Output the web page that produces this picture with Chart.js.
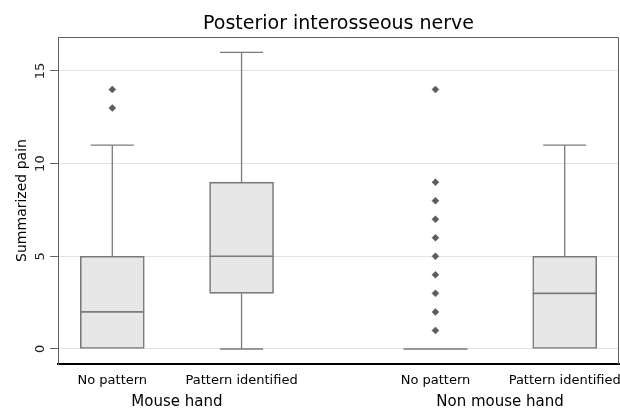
<!DOCTYPE html>
<html><head><meta charset="utf-8">
<script src="https://cdn.jsdelivr.net/npm/chart.js@4.4.1/dist/chart.umd.min.js"></script>
<style>html,body{margin:0;padding:0;background:#fff;overflow:hidden;}canvas{display:block;}</style>
</head><body>
<canvas id="c" width="620" height="410"></canvas>
<script>
// ---- data ----
const chartTitle = 'Posterior interosseous nerve';
const yTitle = 'Summarized pain';
const groups = ['Mouse hand', 'Non mouse hand'];
const categories = ['No pattern', 'Pattern identified', 'No pattern', 'Pattern identified'];
const groupOf = [0, 0, 1, 1];
const whiskerLow = [0, 0, 0, 0];
const q1 = [0, 3, 0, 0];
const median = [2, 5, 0, 3];
const q3 = [5, 9, 0, 5];
const whiskerHigh = [11, 16, 0, 11];
const outliers = [[13, 14], [], [1, 2, 3, 4, 5, 6, 7, 8, 9, 14], []];
const yTicks = [0, 5, 10, 15];
const yTickLabels = ['0', '5', '10', '15'];

// ---- layout in data units: one slot per box, half-slot extra gap between groups ----
const pos = categories.map((c, i) => i + 1 + groupOf[i] * 0.5);
const groupPos = groups.map((g, gi) => {
  const p = pos.filter((_, i) => groupOf[i] === gi);
  return (p[0] + p[p.length - 1]) / 2;
});

const boxData = pos.map((x, i) => ({ x, y: [q1[i], q3[i]] }));
const medianData = pos.map((x, i) => ({ x, y: median[i] }));
const whiskerData = [];
const capData = [];
pos.forEach((x, i) => {
  if (q1[i] > whiskerLow[i]) {
    whiskerData.push({ x, y: whiskerLow[i] }, { x, y: q1[i] }, { x, y: null });
    capData.push({ x, y: whiskerLow[i] });
  }
  if (whiskerHigh[i] > q3[i]) {
    whiskerData.push({ x, y: q3[i] }, { x, y: whiskerHigh[i] }, { x, y: null });
    capData.push({ x, y: whiskerHigh[i] });
  }
});
const outlierData = [];
pos.forEach((x, i) => outliers[i].forEach(v => outlierData.push({ x, y: v })));

const FONT = 'DejaVu Sans';
Chart.defaults.font.family = FONT;
Chart.defaults.color = '#000';

const framePlugin = {
  id: 'frame',
  afterDraw(chart) {
    const { ctx, chartArea: a, scales: { y } } = chart;
    ctx.save();
    ctx.strokeStyle = '#5f5f5f';
    ctx.lineWidth = 1;
    ctx.beginPath();
    ctx.moveTo(a.left, a.top + 0.5);
    ctx.lineTo(a.right - 0.5, a.top + 0.5);
    ctx.lineTo(a.right - 0.5, a.bottom);
    ctx.stroke();
    ctx.fillStyle = '#222';
    ctx.font = '13px "' + FONT + '"';
    ctx.textAlign = 'center';
    ctx.textBaseline = 'middle';
    yTicks.forEach((v, i) => {
      const py = y.getPixelForValue(v);
      ctx.save();
      ctx.translate(40.5, py);
      ctx.rotate(-Math.PI / 2);
      ctx.fillText(yTickLabels[i], 0, 0);
      ctx.restore();
    });
    ctx.restore();
  }
};

const BOX_STROKE = '#7a7a7a';

new Chart(document.getElementById('c'), {
  type: 'bar',
  data: {
    datasets: [
      { type: 'scatter', data: outlierData, order: 1, pointStyle: 'rectRot', pointRadius: 3.5,
        pointBackgroundColor: '#5c5c5c', pointBorderColor: '#5c5c5c', pointBorderWidth: 0.5 },
      { type: 'scatter', data: medianData, order: 2, pointStyle: 'line', pointRadius: 32,
        pointBorderColor: BOX_STROKE, pointBorderWidth: 1.6 },
      { type: 'bar', data: boxData, order: 3, barThickness: 64, backgroundColor: '#e7e7e7',
        borderColor: BOX_STROKE, borderWidth: 1.6, borderSkipped: false },
      { type: 'scatter', data: capData, order: 4, pointStyle: 'line', pointRadius: 21.5,
        pointBorderColor: BOX_STROKE, pointBorderWidth: 1.3 },
      { type: 'line', data: whiskerData, order: 5, showLine: true, spanGaps: false, pointRadius: 0,
        borderColor: BOX_STROKE, borderWidth: 1.3 }
    ]
  },
  options: {
    responsive: false,
    animation: false,
    devicePixelRatio: 1,
    layout: { autoPadding: false, padding: { left: 0, right: 1, top: 0, bottom: 0 } },
    plugins: {
      legend: { display: false },
      tooltip: { enabled: false },
      title: { display: true, fullSize: false, text: chartTitle, color: '#000',
        font: { size: 19, weight: 'normal', family: FONT }, padding: { top: 13, bottom: 1.2 } }
    },
    scales: {
      x: {
        type: 'linear', position: 'bottom', weight: 0, min: 0.58, max: 4.92, offset: false,
        grid: { display: false, drawTicks: false, offset: false },
        border: { display: true, color: '#000', width: 2 },
        ticks: { autoSkip: false, maxRotation: 0, minRotation: 0, padding: 8.7, color: '#000',
          font: { size: 13 }, callback: (v, i) => categories[i] },
        afterBuildTicks: s => { s.ticks = pos.map(v => ({ value: v })); },
        afterFit: s => { s.height = 28; s.paddingLeft = 0; s.paddingRight = 0; }
      },
      xg: {
        type: 'linear', position: 'bottom', weight: 1, min: 0.58, max: 4.92, offset: false,
        grid: { display: false, drawTicks: false, offset: false },
        border: { display: false },
        ticks: { autoSkip: false, maxRotation: 0, minRotation: 0, padding: 1.5, color: '#000',
          font: { size: 15 }, callback: (v, i) => groups[i] },
        afterBuildTicks: s => { s.ticks = groupPos.map(v => ({ value: v })); },
        afterFit: s => { s.height = 18; s.paddingLeft = 0; s.paddingRight = 0; }
      },
      y: {
        type: 'linear', position: 'left', min: -0.81, max: 16.83,
        grid: { color: '#e3e3e3', lineWidth: 1, drawTicks: true, tickLength: 8, tickColor: '#666' },
        border: { display: true, color: '#5f5f5f', width: 1 },
        ticks: { display: false },
        afterBuildTicks: s => { s.ticks = yTicks.map(v => ({ value: v })); },
        title: { display: true, text: yTitle, color: '#000', font: { size: 14 },
          padding: { top: 14, bottom: 0 } },
        afterFit: s => { s.width = 58; s.paddingTop = 0; s.paddingBottom = 0; }
      }
    }
  },
  plugins: [framePlugin]
});
</script>
</body></html>
